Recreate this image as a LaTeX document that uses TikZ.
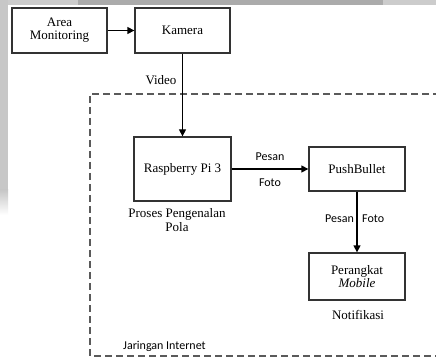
\documentclass[tikz,border=0pt]{standalone}
\usepackage{fontspec}
\setmainfont{Liberation Serif}
\newfontfamily\calibri{Carlito}
\usetikzlibrary{arrows.meta}
\definecolor{boxline}{HTML}{333333}
\definecolor{dashline}{HTML}{5A5A5A}
\tikzset{
  blk/.style={draw=boxline, line width=1.3pt, fill=white, inner sep=0pt, align=center, font=\fontsize{13}{15}\selectfont},
  conn/.style={draw=black, line width=1.3pt, -{Triangle[length=7pt,width=7pt]}},
  lab/.style={font=\calibri\fontsize{12}{14}\selectfont, inner sep=0pt},
  slab/.style={font=\fontsize{13}{15}\selectfont, inner sep=0pt, align=center},
}
\begin{document}
\begin{tikzpicture}[x=1pt,y=-1pt]
\useasboundingbox (0,0) rectangle (436,358);
\fill[white] (0,0) rectangle (436,358);
% screenshot edge artifacts
\fill[black!20] (0,0) rectangle (436,5);
\fill[black!33] (78,0) rectangle (383,5);
\fill[black!22] (0,0) rectangle (8,190);
\shade[top color=black!22, bottom color=white] (0,190) rectangle (8,215);
% dashed region
\draw[dashline, line width=1.5pt, dash pattern=on 7pt off 4pt] (440,94) -- (90,94) -- (90,356) -- (440,356);
% boxes
\node[blk, minimum width=95pt, minimum height=45pt] (area) at (59.5,30.5) {Area\\[-2pt]Monitoring};
\node[blk, minimum width=95pt, minimum height=45pt] (kam) at (182.5,30.5) {Kamera};
\node[blk, minimum width=97pt, minimum height=64pt] (rpi) at (182.5,169) {Raspberry Pi 3};
\node[blk, minimum width=96pt, minimum height=44pt] (pb) at (357,169) {PushBullet};
\node[blk, minimum width=96pt, minimum height=47pt] (pm) at (357,276.5) {Perangkat\\[-2pt]\textit{Mobile}};
% connectors
\draw[conn] (area) -- (kam);
\draw[conn] (kam) -- (rpi);
\draw[conn] (rpi) -- (pb);
\draw[conn] (pb) -- (pm);
% labels
\node[slab] (lvid) at (161,80) {Video};
\node[lab] (lp1) at (270,157) {Pesan};
\node[lab] (lf1) at (270,183) {Foto};
\node[slab] (lproc) at (177,220) {Proses Pengenalan\\[-1pt]Pola};
\node[lab, anchor=east] (lp2) at (354,219) {Pesan};
\node[lab, anchor=west] (lf2) at (362,219) {Foto};
\node[slab] (lnot) at (358,315) {Notifikasi};
\node[lab, anchor=west] (ljar) at (123,346) {Jaringan Internet};
\end{tikzpicture}
\end{document}
